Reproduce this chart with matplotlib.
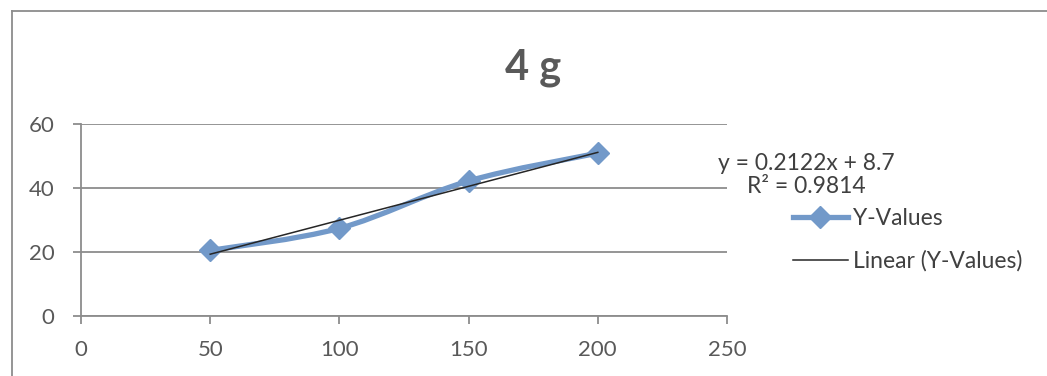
import matplotlib
matplotlib.use('agg')
import matplotlib.pyplot as plt
from matplotlib.path import Path
from matplotlib.patches import PathPatch
from matplotlib.lines import Line2D
import numpy as np

# series values
x_vals = [50, 100, 150, 200]
y_vals = [20.5, 27.4, 42.2, 50.9]

# linear trendline as reported
slope = 0.2122
intercept = 8.7
r2 = 0.9814

title = '4 g'
x_ticks = [0, 50, 100, 150, 200, 250]
y_ticks = [0, 20, 40, 60]

BLUE = '#7299c9'
GREY_TXT = '#595959'
GRID = '#8c8c8c'

plt.rcParams['font.family'] = ['Lato', 'DejaVu Sans']


def smooth_path(xs, ys):
    # bezier smoothing through every point (catmull-rom style control points)
    pts = np.column_stack([xs, ys]).astype(float)
    n = len(pts)
    verts = [pts[0]]
    codes = [Path.MOVETO]
    for i in range(n - 1):
        p0 = pts[i - 1] if i > 0 else pts[i]
        p1 = pts[i]
        p2 = pts[i + 1]
        p3 = pts[i + 2] if i + 2 < n else pts[i + 1]
        c1 = p1 + (p2 - p0) / 6.0
        c2 = p2 - (p3 - p1) / 6.0
        verts += [c1, c2, p2]
        codes += [Path.CURVE4] * 3
    return Path(verts, codes)


fig = plt.figure(figsize=(10.47, 3.76), dpi=100)
ax = fig.add_axes([81 / 1047, 60 / 376, 646 / 1047, 192 / 376])

ax.set_xlim(0, 250)
ax.set_ylim(0, 60)
ax.set_xticks(x_ticks)
ax.set_yticks(y_ticks)

for s in ['top', 'right']:
    ax.spines[s].set_visible(False)
for s in ['left', 'bottom']:
    ax.spines[s].set_color(GRID)
    ax.spines[s].set_linewidth(1.3)

ax.yaxis.grid(True, color=GRID, linewidth=1.3)
ax.set_axisbelow(True)
ax.tick_params(axis='both', colors=GRID, width=1.3, length=6, labelsize=16,
               labelcolor=GREY_TXT)
ax.tick_params(axis='y', pad=13)
ax.tick_params(axis='x', pad=11)

# smoothed data line with diamond markers
patch = PathPatch(smooth_path(x_vals, y_vals), facecolor='none', edgecolor=BLUE,
                  linewidth=3.8, capstyle='round', joinstyle='round', zorder=3)
ax.add_patch(patch)
ax.plot(x_vals, y_vals, linestyle='none', marker='D', markersize=11,
        color=BLUE, zorder=4)

# linear trendline
tx = np.array([min(x_vals), max(x_vals)])
ax.plot(tx, slope * tx + intercept, color='#262626', linewidth=1.1, zorder=5)

fig.text(533 / 1047, 1 - 68 / 376, title, ha='center', va='center',
         fontsize=30, fontweight='bold', color=GREY_TXT)

fig.text(806 / 1047, 1 - 175 / 376,
         'y = %.4fx + %.1f\nR² = %.4f' % (slope, intercept, r2),
         ha='center', va='center', fontsize=16.5, color='#404040',
         linespacing=1.1)

handles = [Line2D([], [], color=BLUE, linewidth=3.8, marker='D', markersize=11),
           Line2D([], [], color='#262626', linewidth=1.1)]
fig.legend(handles, ['Y-Values', 'Linear (Y-Values)'], loc='upper left',
           bbox_to_anchor=(772 / 1047, 1 - 187 / 376), frameon=False,
           fontsize=16.5, handlelength=2.4, handletextpad=0.25,
           labelspacing=0.95, labelcolor='#404040')

# chart area border (left and top edges)
fig.add_artist(Line2D([12 / 1047, 12 / 1047], [0, 1 - 11 / 376],
                      transform=fig.transFigure, color=GRID, linewidth=1.3))
fig.add_artist(Line2D([12 / 1047, 1], [1 - 11 / 376, 1 - 11 / 376],
                      transform=fig.transFigure, color=GRID, linewidth=1.3))

fig.savefig('out.png', dpi=100)
